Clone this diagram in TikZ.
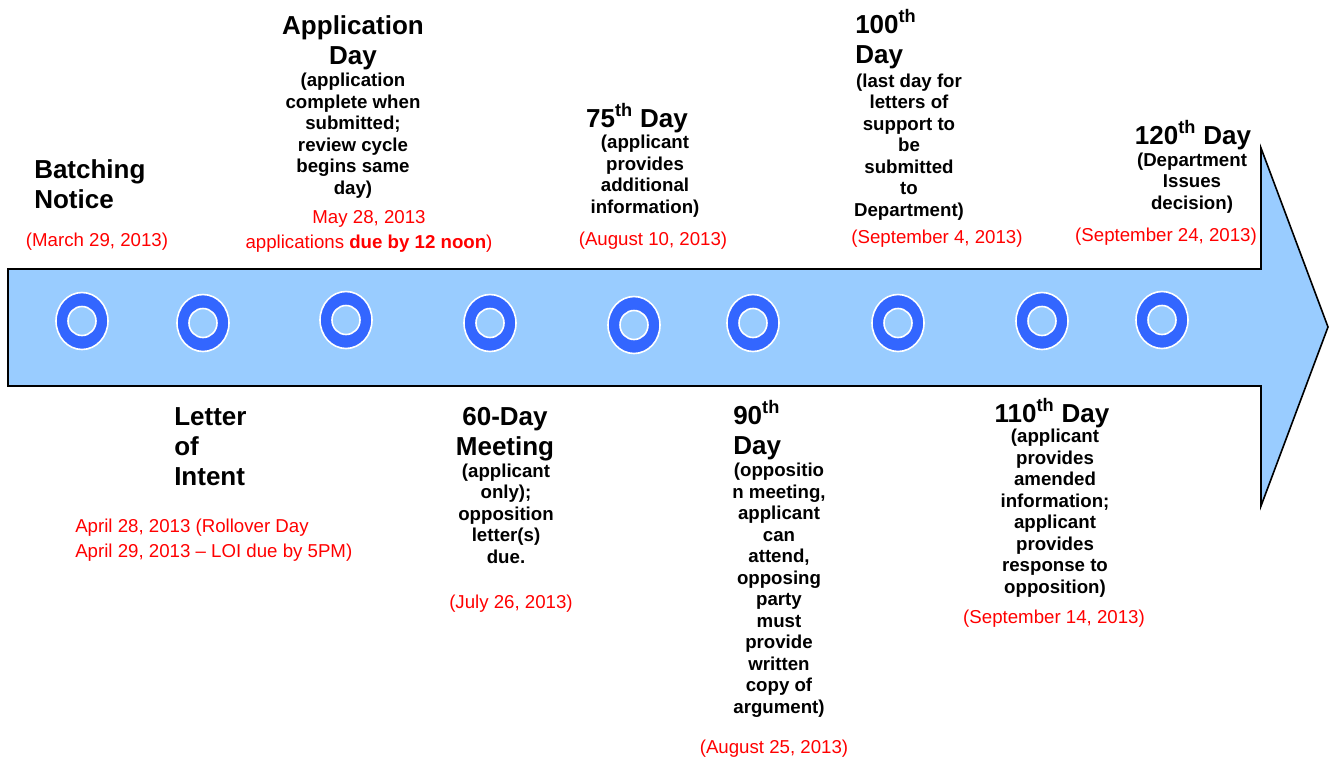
\documentclass[tikz,border=0pt]{standalone}
\usepackage{fontspec}
\setmainfont{Liberation Sans}
\definecolor{arrowblue}{HTML}{99CCFF}
\definecolor{ringblue}{HTML}{3366FF}

\begin{document}
\begin{tikzpicture}[x=0.75pt, y=-0.75pt,
  headtxt/.style={font=\fontsize{19.5}{22.5}\selectfont\bfseries, inner sep=0pt},
  notetxt/.style={font=\fontsize{14}{16.1}\selectfont\bfseries, align=center, inner sep=0pt, anchor=base},
  datetxt/.style={font=\fontsize{14}{18.75}\selectfont, text=red, inner sep=0pt, anchor=base}]

\useasboundingbox (0,0) rectangle (1329,760);

% timeline arrow
\draw[fill=arrowblue, line width=1.2pt] (8,269) -- (1261,269) -- (1261,148) -- (1328,327)
  -- (1261,506) -- (1261,386) -- (8,386) -- cycle;

% milestones on the arrow
\foreach \px/\py in {82/321, 203/323, 346/320, 490/323, 634/325, 753/323, 898/323, 1042/321, 1162/320}
  \draw[white, fill=ringblue, even odd rule, line width=1.2pt]
    (\px,\py) ellipse (26 and 28.5) (\px,\py) ellipse (14 and 14.5);

% above the arrow (base = last line)
\node[headtxt, align=left, anchor=base west] (batch) at (34,208) {Batching\\Notice};
\node[datetxt] (batchdate) at (97,246) {(March 29, 2013)};

\node[headtxt, align=center, anchor=base] (appday) at (353,64) {Application\\Day};
\node[notetxt] (appnote) at (353,194) {(application\\complete when\\submitted;\\review cycle\\begins same\\day)};
\node[datetxt, align=center] (appdate) at (369,248) {May 28, 2013\\applications \textbf{due by 12 noon})};

\node[headtxt, anchor=base] (day75) at (637,127) {75\textsuperscript{th} Day};
\node[notetxt] (note75) at (645,213) {(applicant\\provides\\additional\\information)};
\node[datetxt] (date75) at (653,245) {(August 10, 2013)};

\node[headtxt, align=left, anchor=base west] (day100) at (855,63) {100\textsuperscript{th}\\Day};
\node[notetxt] (note100) at (909,216) {(last day for\\letters of\\support to\\be\\submitted\\to\\Department)};
\node[datetxt] (date100) at (937,243) {(September 4, 2013)};

\node[headtxt, anchor=base] (day120) at (1193,144) {120\textsuperscript{th} Day};
\node[notetxt] (note120) at (1192,209) {(Department\\Issues\\decision)};
\node[datetxt] (date120) at (1166,241) {(September 24, 2013)};

% below the arrow
\node[headtxt, align=left, anchor=base west] (loi) at (174,485) {Letter\\of\\Intent};
\node[datetxt, align=left, anchor=base west] (loidate) at (75,557) {April 28, 2013 (Rollover Day\\April 29, 2013 \textendash{} LOI due by 5PM)};

\node[headtxt, align=center, anchor=base] (day60) at (505,455) {60-Day\\Meeting};
\node[notetxt] (note60) at (506,563) {(applicant\\only);\\opposition\\letter(s)\\due.};
\node[datetxt] (date60) at (511,608) {(July 26, 2013)};

\node[headtxt, align=left, anchor=base west] (day90) at (733,454) {90\textsuperscript{th}\\Day};
\node[notetxt] (note90) at (779,713) {(oppositio\\n meeting,\\applicant\\can\\attend,\\opposing\\party\\must\\provide\\written\\copy of\\argument)};
\node[datetxt] (date90) at (774,753) {(August 25, 2013)};

\node[headtxt, anchor=base] (day110) at (1052,422) {110\textsuperscript{th} Day};
\node[notetxt] (note110) at (1055,593) {(applicant\\provides\\amended\\information;\\applicant\\provides\\response to\\opposition)};
\node[datetxt] (date110) at (1054,623) {(September 14, 2013)};

\end{tikzpicture}
\end{document}
